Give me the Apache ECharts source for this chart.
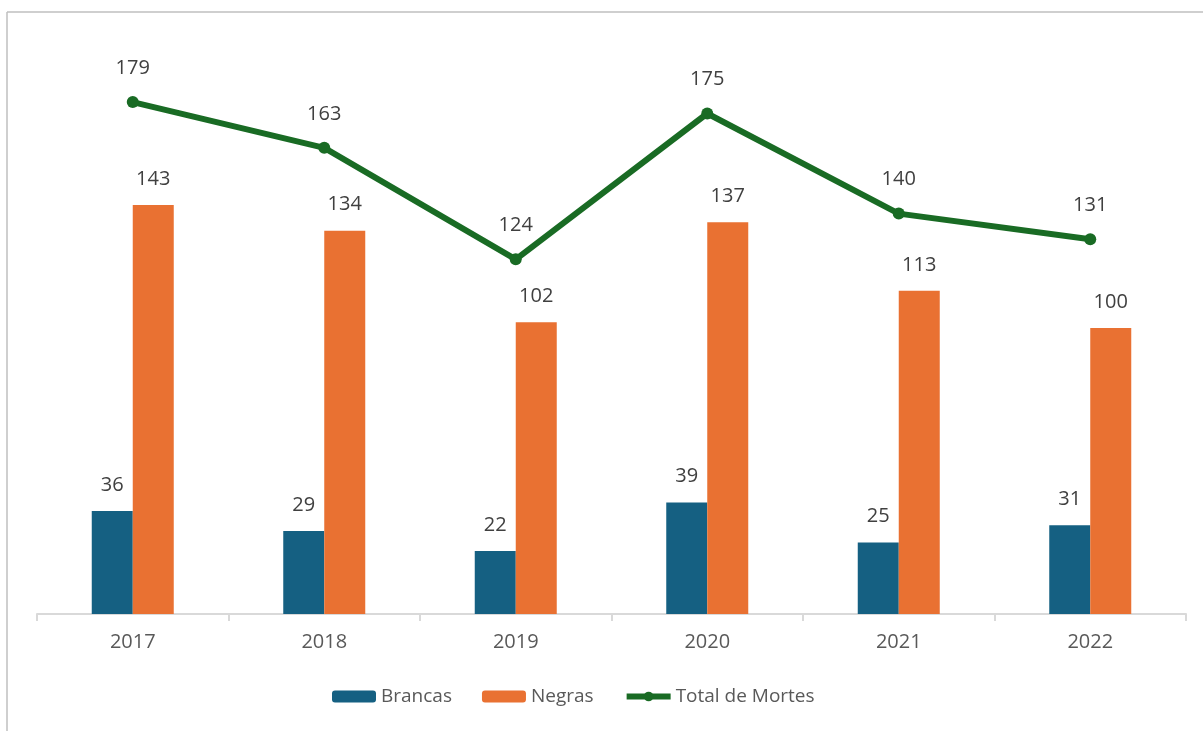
<!DOCTYPE html>
<html>
<head>
<meta charset="utf-8">
<script src="https://cdn.jsdelivr.net/npm/echarts@6/dist/echarts.min.js"></script>
<style>
html,body{margin:0;padding:0;background:#fff;}
#chart{width:1203px;height:731px;}
</style>
</head>
<body>
<div id="chart"></div>
<script>
const categories = ['2017','2018','2019','2020','2021','2022'];
const brancas = [36, 29, 22, 39, 25, 31];
const negras = [143, 134, 102, 137, 113, 100];
const total = [179, 163, 124, 175, 140, 131];

const chart = echarts.init(document.getElementById('chart'));
const font = "'Open Sans', 'Liberation Sans', sans-serif";
const labelStyle = {show: true, position: 'top', fontSize: 20, color: '#404040', fontFamily: font};
chart.setOption({
  animation: false,
  backgroundColor: '#fff',
  graphic: [
    {type: 'line', shape: {x1: 7, y1: 12, x2: 1203, y2: 12}, style: {stroke: '#bfbfbf', lineWidth: 1.5}},
    {type: 'line', shape: {x1: 7, y1: 12, x2: 7, y2: 731}, style: {stroke: '#bfbfbf', lineWidth: 1.5}}
  ],
  grid: {left: 37, right: 17, top: 42, bottom: 117},
  legend: {
    bottom: 20, left: 327,
    itemWidth: 44, itemHeight: 12, itemGap: 30,
    textStyle: {fontSize: 19, color: '#595959', fontFamily: font},
    data: ['Brancas', 'Negras', {name: 'Total de Mortes', lineStyle: {width: 6}}]
  },
  xAxis: {
    type: 'category', data: categories,
    axisLine: {lineStyle: {color: '#d9d9d9', width: 2}},
    axisTick: {show: true, length: 7, lineStyle: {color: '#d9d9d9', width: 2}},
    axisLabel: {fontSize: 20, color: '#595959', fontFamily: font, margin: 18}
  },
  yAxis: {type: 'value', min: 0, max: 200, show: false, splitLine: {show: false}},
  series: [
    {name: 'Brancas', type: 'bar', data: brancas, barWidth: 41, barGap: '0%',
     itemStyle: {color: '#156082'}, label: Object.assign({distance: 16}, labelStyle)},
    {name: 'Negras', type: 'bar', data: negras, barWidth: 41,
     itemStyle: {color: '#E97132'}, label: Object.assign({distance: 16}, labelStyle)},
    {name: 'Total de Mortes', type: 'line', data: total,
     symbol: 'circle', symbolSize: 12,
     lineStyle: {color: '#196B24', width: 6},
     itemStyle: {color: '#196B24'},
     label: Object.assign({distance: 18}, labelStyle)}
  ]
});
</script>
</body>
</html>
